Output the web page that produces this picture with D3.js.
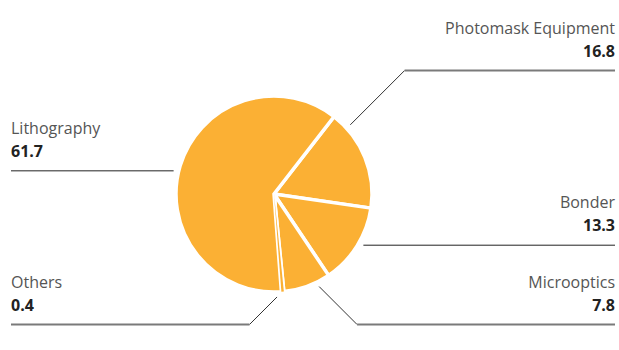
<!DOCTYPE html>
<html>
<head>
<meta charset="utf-8">
<script src="https://cdn.jsdelivr.net/npm/d3@7"></script>
<style>
  html, body { margin: 0; padding: 0; background: #fff; }
  svg { display: block; }
  text { font-family: "Open Sans", Lato, sans-serif; }
</style>
</head>
<body>
<svg id="chart" width="619" height="350"></svg>
<script>
// Market share by equipment segment (%)
const categories = ["Photomask Equipment", "Bonder", "Microoptics", "Others", "Lithography"];
const values = [16.8, 13.3, 7.8, 0.4, 61.7];
const valueLabels = ["16.8", "13.3", "7.8", "0.4", "61.7"];

// Label placement: angle (deg, clockwise from 12 o'clock) where the leader leaves the pie,
// side of the chart, and the y of the horizontal rule (null = same height as leader start).
const labelLayout = [
  { angle: 47.8,  side: "right", rowY: 70.5 },
  { angle: 119.8, side: "right", rowY: null },
  { angle: 154,   side: "right", rowY: 324.5 },
  { angle: 178.3, side: "left",  rowY: 324.5 },
  { angle: 283,   side: "left",  rowY: null }
];

const width = 619, height = 350;
const cx = 274, cy = 194, radius = 98;
const leftX = 11, rightX = 615;
const fill = "#FBB034";

const svg = d3.select("#chart");
const g = svg.append("g").attr("transform", `translate(${cx},${cy})`);

const startDeg = 37.8;
const pie = d3.pie()
  .sort(null)
  .value(d => d)
  .startAngle(startDeg * Math.PI / 180)
  .endAngle(startDeg * Math.PI / 180 + 2 * Math.PI);

const arc = d3.arc().innerRadius(0).outerRadius(radius);
const arcs = pie(values);

g.selectAll("path.slice")
  .data(arcs)
  .join("path")
  .attr("class", "slice")
  .attr("d", arc)
  .attr("fill", fill)
  .attr("stroke", "#fff")
  .attr("stroke-width", 3.5)
  .attr("stroke-linejoin", "miter");

// Very thin slices: repaint the fill above the separators so they stay visible
g.selectAll("path.thin")
  .data(arcs.filter(d => d.endAngle - d.startAngle < 0.05))
  .join("path")
  .attr("class", "thin")
  .attr("d", arc)
  .attr("fill", fill);

// Leader lines and labels
const rLead = radius + 5;
categories.forEach((name, i) => {
  const L = labelLayout[i];
  const a = L.angle * Math.PI / 180;
  const sx = cx + rLead * Math.sin(a);
  const sy = cy - rLead * Math.cos(a);
  const rowY = L.rowY == null ? sy : L.rowY;
  const dir = L.side === "right" ? 1 : -1;
  const ex = sx + dir * Math.abs(rowY - sy);
  const endX = L.side === "right" ? rightX : leftX;

  if (L.rowY != null) {
    svg.append("line")
      .attr("x1", sx).attr("y1", sy).attr("x2", ex).attr("y2", rowY)
      .attr("stroke", "#333").attr("stroke-width", 1);
    svg.append("line")
      .attr("x1", ex).attr("y1", rowY).attr("x2", endX).attr("y2", rowY)
      .attr("stroke", "#7a7a7a").attr("stroke-width", 1.8);
  } else {
    svg.append("line")
      .attr("x1", sx).attr("y1", rowY).attr("x2", endX).attr("y2", rowY)
      .attr("stroke", "#222").attr("stroke-width", 1);
  }

  const anchor = L.side === "right" ? "end" : "start";
  svg.append("text")
    .attr("x", endX).attr("y", rowY - 37)
    .attr("text-anchor", anchor)
    .attr("font-size", 16)
    .attr("fill", "#555")
    .text(name);
  svg.append("text")
    .attr("x", endX).attr("y", rowY - 14)
    .attr("text-anchor", anchor)
    .attr("font-size", 16)
    .attr("font-weight", "bold")
    .attr("fill", "#222")
    .text(valueLabels[i]);
});
</script>
</body>
</html>
